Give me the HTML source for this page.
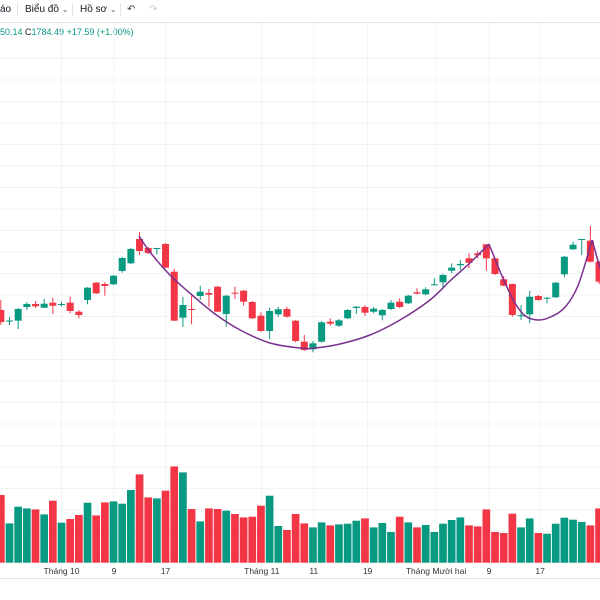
<!DOCTYPE html>
<html><head><meta charset="utf-8"><style>
body{margin:0;width:600px;height:600px;overflow:hidden;background:#fff;font-family:"Liberation Sans","Noto Sans CJK SC",sans-serif;}
svg{position:absolute;left:0;top:0}
.tb{position:absolute;top:4px;font-size:10px;color:#131722}
</style></head><body>
<div class="tb" style="left:0">áo</div>
<div style="position:absolute;left:17px;top:3px;width:1px;height:14px;background:#e0e3eb"></div>
<div class="tb" style="left:25px">Biểu đồ <span style="font-size:8px;color:#555">⌄</span></div>
<div style="position:absolute;left:72px;top:3px;width:1px;height:14px;background:#e0e3eb"></div>
<div class="tb" style="left:80px">Hồ sơ <span style="font-size:8px;color:#555">⌄</span></div>
<div style="position:absolute;left:120px;top:3px;width:1px;height:14px;background:#e0e3eb"></div>
<div class="tb" style="left:127px;color:#444">↶</div>
<div class="tb" style="left:149px;color:#ccc">↷</div>
<div style="position:absolute;left:0;top:22px;width:600px;height:1px;background:#e0e3eb"></div>
<div style="position:absolute;left:0;top:27px;font-size:9px;color:#089981">50.14 <span style="color:#131722">C</span>1784.49 +17.59 (+1.00%)</div>
<svg id="chart" width="600" height="600"></svg>
<script>
const opens=[1750,1739,1739.3,1753,1756,1752.3,1757.3,1755.4,1757.3,1748.3,1760,1777.3,1776,1775.7,1789,1796.7,1821,1812,1811,1816,1788.3,1742.3,1751,1764,1767,1773.3,1746,1767.3,1769.3,1758,1744.3,1729,1745.7,1751,1739.3,1718.3,1710.7,1718.3,1738.3,1734.3,1741.7,1752,1753,1748.3,1744.7,1751,1758.3,1756.7,1767.7,1765.7,1775,1777.7,1789.3,1794.7,1801.7,1806.7,1815.7,1801.7,1780.7,1776,1744.1,1745.7,1764,1761.3,1762.7,1785.7,1810.7,1820,1819.3,1798.3];
const closes=[1738,1739.5,1751,1756,1753.7,1756.3,1754.3,1756,1749,1745,1772.3,1766.7,1774,1784.3,1802,1811,1809,1807,1812,1792.3,1739.3,1755,1750,1768.3,1765.3,1748.3,1764.3,1766.6,1758.3,1741.7,1729,1749,1750.7,1743.3,1719,1710,1716.7,1737.7,1736.3,1739.7,1750,1753.3,1747.3,1751.3,1750,1757.3,1753,1764.3,1766.3,1770.7,1775.7,1785,1792.3,1796,1797.3,1804.7,1801.7,1786,1774.3,1745,1744.7,1763.3,1760,1762.3,1777.3,1803.3,1815.3,1821,1798.3,1778.3];
const highs=[1760,1743,1752,1758,1759,1761,1762.3,1758.3,1763.3,1750,1773,1778,1777.7,1785,1803,1812,1828,1813,1812.3,1817,1791,1763,1764.3,1774.3,1771,1774,1765,1773.3,1770,1759,1747.7,1752.3,1753,1753.3,1740,1725,1719,1739,1741.7,1741,1751,1754,1755,1753.3,1751,1760,1761.7,1765,1771.7,1772.7,1781.7,1786,1796.7,1800,1806.7,1809.3,1816,1802,1784,1776.5,1755,1769.3,1765,1763,1778,1804,1818.3,1821,1834,1799];
const lows=[1735,1735,1731,1750,1752,1752,1746,1753.3,1746.7,1741.7,1755.7,1766,1764.3,1775,1787.3,1796,1805,1806,1805.7,1792,1739,1733,1735.7,1760,1753.3,1748,1733.3,1761,1754.3,1741,1728,1721,1743.3,1742.3,1717.7,1709,1707.7,1717.5,1734.3,1733,1741,1746,1744,1746.7,1739.7,1750,1752,1756,1765.7,1765,1774.5,1773,1786.7,1790,1792,1801.7,1789.3,1785,1773.7,1743.3,1740,1736.7,1759.3,1756.7,1762,1782.7,1810,1805,1797.5,1776];
const volumes=[67.7,39.3,56,54.3,53.3,48.3,62,40,43.7,47.7,60,47.3,60.3,61.3,59,72.7,88.3,65.3,64.3,72,96.3,90.3,53.7,41.3,54.3,53.7,52,48.7,45.3,46,57,67,36.7,32.7,48.7,39.3,35.3,40.3,37.3,38.3,39,42,44.3,35.3,39.7,30.7,46,40.3,35.3,37.7,30.7,39,42.7,45.3,37.3,36.3,53.3,30.7,29.7,49,35.3,44.3,29.7,29,39,45,43,40.7,37.3,54.3];
const curve1Idx=[15.94,17.2,19.51,22.05,24.7,27.6,31.04,34.5,36.24,39.12,42.58,46.04,49.5,51.8,54.1,56.3];
const curve1Px=[1824,1808,1785,1765,1746,1730,1717,1712,1712,1716,1725,1740,1760,1779,1797,1816];
const curve2Idx=[56.3,57.9,59.3,60.5,61.96,63.4,65.1,66.6,68.2];
const curve2Px=[1816,1782,1757,1744,1740,1743,1753,1775,1820];
const curve3Idx=[68.2,69.1];
const curve3Px=[1820,1792];
const xLabels=["Tháng 10","9","17","Tháng 11","11","19","Tháng Mười hai","9","17"];
const xLabelIdx=[7,13.05,19,30.1,36.1,42.3,50.2,56.3,62.2];

const NS="http://www.w3.org/2000/svg";
const svg=document.getElementById('chart');
const xS=i=>0.83+8.67*i;
const yS=p=>2060-p;
const vS=v=>562.7-v;
const UP="#089981",DN="#f23645";
function mk(t,a){const e=document.createElementNS(NS,t);for(const k in a)e.setAttribute(k,a[k]);svg.appendChild(e);return e;}
// grid
for(let k=0;k<24;k++){const y=58.5+21.5*k;if(y>560)break;const g=mk('line',{x1:0,x2:600,y1:y,y2:y,stroke:'#f2f3f5','stroke-width':1});

}
xLabelIdx.forEach(i=>{const g=mk('line',{x1:xS(i),x2:xS(i),y1:23,y2:578,stroke:'#f2f3f5','stroke-width':1});

});
// volume
volumes.forEach((v,i)=>{const up=closes[i]>=opens[i];
const r=mk('rect',{x:xS(i)-3.85,y:vS(v),width:7.7,height:v,fill:up?UP:DN});

});
// candles
opens.forEach((o,i)=>{const c=closes[i],up=c>=o,col=up?UP:DN,x=xS(i);
const w=mk('line',{x1:x,x2:x,y1:yS(highs[i]),y2:yS(lows[i]),stroke:col,'stroke-width':1});


const t=yS(Math.max(o,c)),h=Math.max(1,Math.abs(o-c));
const b=mk('rect',{x:x-3.5,y:t,width:7,height:h,fill:col});

});
// curves (catmull-rom)
function path(ix,px){const p=ix.map((v,k)=>[xS(v),yS(px[k])]);let d='M'+p[0][0]+','+p[0][1];
for(let k=0;k<p.length-1;k++){const p0=p[k-1]||p[k],p1=p[k],p2=p[k+1],p3=p[k+2]||p2;
d+=' C'+(p1[0]+(p2[0]-p0[0])/6)+','+(p1[1]+(p2[1]-p0[1])/6)+' '+(p2[0]-(p3[0]-p1[0])/6)+','+(p2[1]-(p3[1]-p1[1])/6)+' '+p2[0]+','+p2[1];}
return d;}
[[curve1Idx,curve1Px],[curve2Idx,curve2Px],[curve3Idx,curve3Px]].forEach(([a,b])=>{
const c=mk('path',{d:path(a,b),fill:'none',stroke:'#7b2f8e','stroke-width':1.5});

});
// x axis
const ax=mk('line',{x1:0,x2:600,y1:578.5,y2:578.5,stroke:'#e0e3eb','stroke-width':1});


xLabels.forEach((l,k)=>{const t=mk('text',{x:xS(xLabelIdx[k]),y:574,'text-anchor':'middle','font-size':8.5,fill:'#333','font-family':'Liberation Sans, sans-serif'});
t.textContent=l;

});
</script>
</body></html>
